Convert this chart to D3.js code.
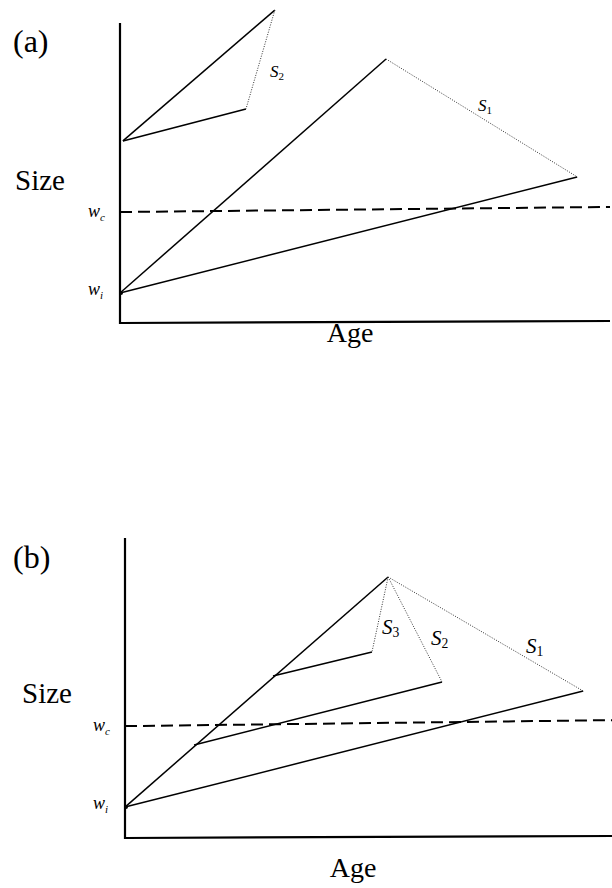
<!DOCTYPE html>
<html><head><meta charset="utf-8">
<script src="https://cdn.jsdelivr.net/npm/d3@7"></script>
<style>body{margin:0;background:#fff}svg{display:block}text{font-family:"Liberation Serif","Times New Roman",serif;fill:#000}</style>
</head><body>
<svg id="c" width="612" height="888"></svg>
<script>
// Panel (a) data (age, size) in arbitrary units
const panelA_wi = [0, 1.0];
const panelA_wc = [[0, 3.7], [10, 3.87]];
const panelA_solid = [
  [[0, 1.0], [5.43, 8.8]],
  [[0, 1.0], [9.33, 4.87]],
  [[0.06, 6.07], [3.16, 10.43]],
  [[0.06, 6.07], [2.57, 7.13]]
];
const panelA_dotted = [
  {name: "1", pts: [[5.43, 8.8], [9.33, 4.87]]},
  {name: "2", pts: [[3.16, 10.43], [2.57, 7.13]]}
];
// Panel (b) data
const panelB_wi = [0, 1.03];
const panelB_wc = [[0, 3.73], [10, 3.93]];
const panelB_solid = [
  [[0, 1.03], [5.37, 8.7]],
  [[0, 1.03], [9.35, 4.9]],
  [[1.41, 3.1], [6.47, 5.2]],
  [[3.02, 5.4], [5.04, 6.2]]
];
const panelB_dotted = [
  {name: "1", pts: [[5.37, 8.7], [9.35, 4.9]]},
  {name: "2", pts: [[5.37, 8.7], [6.47, 5.2]]},
  {name: "3", pts: [[5.37, 8.7], [5.04, 6.2]]}
];

const svg = d3.select("#c");

function panel(cfg) {
  const x = d3.scaleLinear().domain([0, 10]).range([cfg.x0, cfg.x0 + 490]);
  const y = d3.scaleLinear().domain([0, 10]).range([cfg.y0, cfg.y0 - 300]);
  const g = svg.append("g");
  const line = d3.line().x(d => x(d[0])).y(d => y(d[1]));
  // axes
  g.append("line").attr("x1", x(0)).attr("x2", x(0)).attr("y1", y(0) + 1).attr("y2", y(cfg.ytop))
    .attr("stroke", "#000").attr("stroke-width", 2.2);
  g.append("line").attr("x1", x(0)).attr("x2", cfg.xEnd).attr("y1", y(0)).attr("y2", y(0) - 2)
    .attr("stroke", "#000").attr("stroke-width", 2.2);
  // dashed wc
  g.append("path").attr("d", line(cfg.wc)).attr("fill", "none").attr("stroke", "#000")
    .attr("stroke-width", 2).attr("stroke-dasharray", "12,6");
  // solid lines
  cfg.solid.forEach(s => g.append("path").attr("d", line(s)).attr("fill", "none")
    .attr("stroke", "#000").attr("stroke-width", 1.5));
  // dotted
  cfg.dotted.forEach(s => g.append("path").attr("d", line(s.pts)).attr("fill", "none")
    .attr("stroke", "#333").attr("stroke-width", 1).attr("stroke-dasharray", "1,1.5"));
  // wi marker
  g.append("circle").attr("cx", x(cfg.wi[0]) + 1).attr("cy", y(cfg.wi[1])).attr("r", 2).attr("fill", "#000");
  // labels
  const t = (tx, ty, s, size, anchor) => g.append("text").attr("x", tx).attr("y", ty)
    .attr("font-size", size).attr("text-anchor", anchor || "start").text(s);
  t(cfg.tagX, cfg.tagY, cfg.tag, 32);
  t(cfg.sizeX, cfg.sizeY, "Size", 29);
  t(cfg.ageX, cfg.ageY, "Age", 28, "middle");
  // w labels
  const wl = (yy, sub) => {
    const tx = g.append("text").attr("x", x(0) - 32).attr("y", yy).attr("font-size", 18).attr("font-style", "italic");
    tx.append("tspan").text("w");
    tx.append("tspan").attr("font-size", 11).attr("dy", 4).text(sub);
  };
  wl(y(cfg.wc[0][1]) + 5, "c");
  wl(y(cfg.wi[1]) + 2, "i");
  // S labels
  cfg.sLabels.forEach(s => {
    const tx = g.append("text").attr("x", s.x).attr("y", s.y).attr("font-size", cfg.sSize).attr("font-style", "italic");
    tx.append("tspan").text("S");
    tx.append("tspan").attr("font-size", cfg.sSize * 0.65).attr("font-style", "normal").attr("dy", 3).text(s.n);
  });
}

panel({
  x0: 120, y0: 323, ytop: 10, xEnd: 610, wi: panelA_wi, wc: panelA_wc,
  solid: panelA_solid, dotted: panelA_dotted,
  tag: "(a)", tagX: 13, tagY: 52, sizeX: 15, sizeY: 190, ageX: 350, ageY: 342,
  sSize: 17,
  sLabels: [{x: 270, y: 77, n: "2"}, {x: 478, y: 111, n: "1"}]
});
panel({
  x0: 125, y0: 838, ytop: 10, xEnd: 612, wi: panelB_wi, wc: panelB_wc,
  solid: panelB_solid, dotted: panelB_dotted,
  tag: "(b)", tagX: 13, tagY: 568, sizeX: 22, sizeY: 703, ageX: 353, ageY: 877,
  sSize: 21,
  sLabels: [{x: 382, y: 634, n: "3"}, {x: 431, y: 645, n: "2"}, {x: 526, y: 653, n: "1"}]
});
</script>
</body></html>
